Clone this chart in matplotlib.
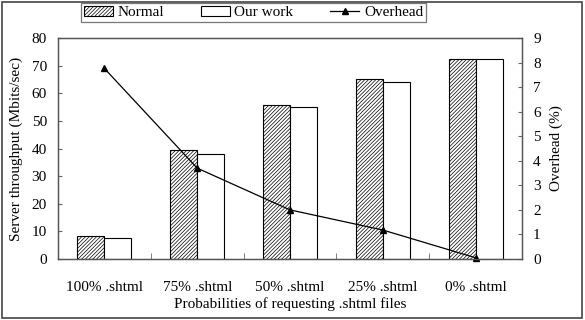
import matplotlib
matplotlib.use("Agg")
from matplotlib import pyplot as plt
import numpy as np

# values
categories = ["100% .shtml", "75% .shtml", "50% .shtml", "25% .shtml", "0% .shtml"]
normal = [8.3, 39.4, 55.9, 65.1, 72.5]
our_work = [7.6, 37.9, 55.0, 64.0, 72.5]
overhead = [7.76, 3.7, 2.0, 1.18, 0.05]

plt.rcParams['font.family'] = ['Liberation Serif', 'DejaVu Serif']
plt.rcParams['font.size'] = 11
plt.rcParams['hatch.linewidth'] = 0.5
plt.rcParams['hatch.color'] = '#6e6e6e'

fig = plt.figure(figsize=(5.85, 3.2), dpi=100)
ax = fig.add_axes([58/585, 61/320, 464/585, 221/320])
ax2 = ax.twinx()

x = np.arange(len(categories))
w = 0.29
b1 = ax.bar(x - w/2, normal, w, color='white', edgecolor='black', linewidth=0.8,
            hatch='/////////', label='Normal')
b2 = ax.bar(x + w/2, our_work, w, color='white', edgecolor='black', linewidth=0.8,
            label='Our work')
l1, = ax2.plot(x, overhead, '-^', color='black', linewidth=0.9, markersize=5,
               label='Overhead', clip_on=False)

ax.set_xlim(-0.5, len(categories) - 0.5)
ax.set_ylim(0, 80)
ax2.set_ylim(0, 9)
ax.set_yticks(range(0, 81, 10))
ax2.set_yticks(range(0, 10))

# category labels centered, tick marks at group boundaries
ax.set_xticks(x)
ax.set_xticklabels(categories)
ax.tick_params(axis='x', length=0, pad=16)
ax.set_xticks(np.arange(-0.5, len(categories)), minor=True)
ax.tick_params(axis='x', which='minor', direction='in', length=4, color='#666666')
ax.tick_params(axis='y', direction='in', length=3, color='#666666', pad=8)
ax2.tick_params(axis='y', direction='in', length=3, color='#666666', pad=8)

for a in (ax, ax2):
    for s in a.spines.values():
        s.set_color('#555555')
        s.set_linewidth(0.9)

ax.set_xlabel('Probabilities of requesting .shtml files', labelpad=2)
ax.set_ylabel('Server throughput (Mbits/sec)', labelpad=6)
ax2.set_ylabel('Overhead (%)', labelpad=6)

leg = fig.legend([b1, b2, l1], ['Normal', 'Our work', 'Overhead'], ncol=3,
                 loc='center', bbox_to_anchor=((81 + 426) / 2 / 585, 1 - 12.5 / 320),
                 frameon=True, fancybox=False, edgecolor='#555555',
                 handlelength=1.9, handletextpad=0.3, columnspacing=2.4,
                 borderpad=0.2, borderaxespad=0)
leg.get_frame().set_linewidth(0.9)

# outer border around the figure
fig.patches.append(plt.Rectangle((2/585, 2/320), 580/585, 316/320, transform=fig.transFigure,
                                 fill=False, edgecolor='#444444', linewidth=1.2))

fig.savefig('out.png', dpi=100)
